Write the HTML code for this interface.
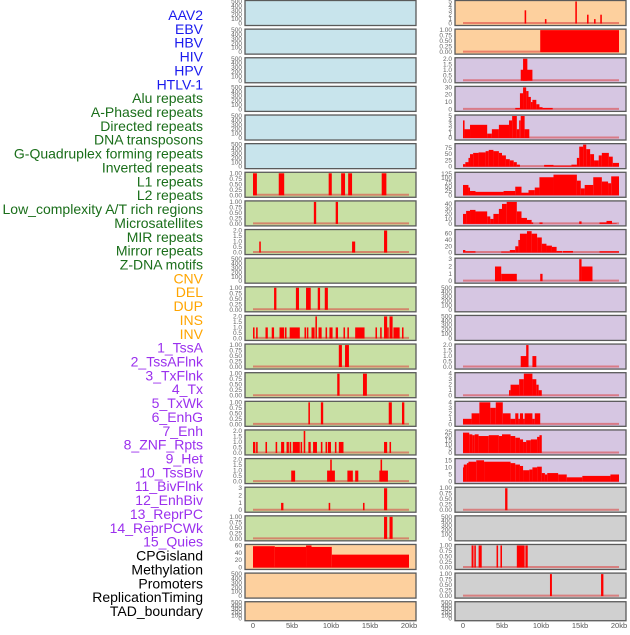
<!DOCTYPE html>
<html><head><meta charset="utf-8">
<style>
body{margin:0;background:#fff;width:630px;height:630px;overflow:hidden;font-family:"Liberation Sans",sans-serif;}
svg text{font-family:"Liberation Sans",sans-serif;}
</style></head>
<body>
<svg id="chart" width="630" height="630" viewBox="0 0 630 630" xmlns="http://www.w3.org/2000/svg"></svg>
<script>
// ---- labels ----
const labelNames = ["AAV2","EBV","HBV","HIV","HPV","HTLV-1","Alu repeats","A-Phased repeats","Directed repeats","DNA transposons","G-Quadruplex forming repeats","Inverted repeats","L1 repeats","L2 repeats","Low_complexity A/T rich regions","Microsatellites","MIR repeats","Mirror repeats","Z-DNA motifs","CNV","DEL","DUP","INS","INV","1_TssA","2_TssAFlnk","3_TxFlnk","4_Tx","5_TxWk","6_EnhG","7_Enh","8_ZNF_Rpts","9_Het","10_TssBiv","11_BivFlnk","12_EnhBiv","13_ReprPC","14_ReprPCWk","15_Quies","CPGisland","Methylation","Promoters","ReplicationTiming","TAD_boundary"];
const labelGroups = [0,0,0,0,0,0,1,1,1,1,1,1,1,1,1,1,1,1,1,2,2,2,2,2,3,3,3,3,3,3,3,3,3,3,3,3,3,3,3,4,4,4,4,4];
const groupColors = ["#1a1aee","#1a6e1a","#ffa500","#9b30ee","#000000"];

// ---- tick label sets ----
const T500 = [0,100,200,300,400,500];
const T1 = [0,0.25,0.5,0.75,1];
const T2 = [0,0.5,1,1.5,2];
const T3 = [0,1,2,3];
const T4 = [0,1,2,3,4];
const T5 = [0,1,2,3,4,5];

// ---- left column data (segments: [startKb, endKb, value]) ----
const leftTicks = [T500,T500,T500,T500,T500,T500,T1,T1,T2,T500,T1,T2,T1,T1,T1,T2,T2,T3,T1,[0,20,40,60],T500,T500];
const leftMax = [500,500,500,500,500,500,1,1,2,500,1,2,1,1,1,2,2,3,1,60,500,500];
const leftBg = ["#c8e4ec","#c8e4ec","#c8e4ec","#c8e4ec","#c8e4ec","#c8e4ec","#c8e0a4","#c8e0a4","#c8e0a4","#c8e0a4","#c8e0a4","#c8e0a4","#c8e0a4","#c8e0a4","#c8e0a4","#c8e0a4","#c8e0a4","#c8e0a4","#c8e0a4","#fdd09e","#fdd09e","#fdd09e"];
const left6 = [[0,0.5,1],[3.3,4.0,1],[9.7,10.1,1],[11.3,11.8,1],[12.2,12.7,1],[16.5,17.1,1]];
const left7 = [[7.8,8.1,1],[10.6,10.9,1]];
const left8 = [[0.8,1.0,1],[12.7,13.1,1],[16.8,17.2,2]];
const left10 = [[2.7,3.0,1],[5.5,5.9,1],[6.8,7.4,1],[8.3,8.6,1],[9.2,9.6,1]];
const left11 = [[-0.1,0.2,1],[0.4,0.6,1],[1.6,1.9,1],[2.4,2.7,1],[3.4,4.0,1],[4.1,4.3,1],[4.7,6.0,1],[6.6,6.8,1],[6.9,7.1,1],[7.5,7.9,1],[8.0,8.2,2],[8.4,8.8,1],[9.3,9.5,1],[9.8,10.2,1],[10.6,10.9,1],[11.6,11.8,1],[12.1,12.3,1],[13.1,14.3,1],[15.7,15.9,1],[16.3,16.5,1],[16.8,17.2,2],[17.2,17.4,1],[17.5,17.9,2],[18.0,18.8,1],[19.1,19.3,1]];
const left12 = [[11.0,11.4,1],[11.8,12.3,1]];
const left13 = [[10.8,11.1,1],[14.1,14.6,1]];
const left14 = [[7.1,7.3,1],[8.7,9.0,1],[17.4,17.8,1],[19.1,19.4,1]];
const left15 = [[-0.1,0.3,1],[0.4,0.6,1],[1.6,1.8,1],[2.9,3.1,1],[3.6,4.0,1],[4.3,4.6,1],[4.7,4.9,1],[5.1,6.0,1],[6.1,6.3,1],[6.5,6.7,2],[7.1,7.4,1],[7.7,8.2,1],[8.7,8.9,1],[9.3,9.5,1],[9.6,10.0,1],[10.5,10.7,1],[11.0,11.6,1],[16.8,17.2,1],[17.5,17.7,1]];
const left16 = [[4.9,5.4,1],[9.5,10.5,1],[9.9,10.1,2],[12.1,12.8,1],[13.1,13.5,1],[16.2,17.3,1],[16.35,16.55,2]];
const left17 = [[3.6,3.9,1],[9.7,9.9,1],[14.1,14.3,1],[16.8,17.2,3]];
const left18 = [[16.8,17.2,1],[17.5,17.9,1]];
const left19 = [[0,2.8,58],[2.8,6.8,56],[6.8,7.5,60],[7.5,10.1,56],[10.1,20,35]];
const leftData = [[],[],[],[],[],[],left6,left7,left8,[],left10,left11,left12,left13,left14,left15,left16,left17,left18,left19,[],[]];

// ---- right column data ----
const rightTicks = [T5,T1,T2,[0,10,20,30],T5,[0,25,50,75],[0,25,50,75,100,125],[0,10,20,30,40],[0,20,40,60],T3,T500,T500,T2,T4,T4,[0,5,10,15,20,25],[0,5,10,15],T1,T500,T1,T1,T500];
const rightMax = [5,1,2,30,5,88,128,44,70,3,500,500,2,4,4,26,15.5,1,500,1,1,500];
const rightBg = ["#fdd09e","#fdd09e","#d6c6e2","#d6c6e2","#d6c6e2","#d6c6e2","#d6c6e2","#d6c6e2","#d6c6e2","#d6c6e2","#d6c6e2","#d6c6e2","#d6c6e2","#d6c6e2","#d6c6e2","#d6c6e2","#d6c6e2","#d0d0d0","#d0d0d0","#d0d0d0","#d0d0d0","#d0d0d0"];
const right0 = [[7.9,8.1,3],[10.5,10.7,1],[14.4,14.6,5],[15.9,16.1,2],[16.8,17.0,1],[17.6,17.8,2]];
const right1 = [[9.9,20,1]];
const right2 = [[7.4,8.9,1],[7.7,8.25,2]];
const right3 = [[6.7,7.3,2],[7.3,7.7,22],[7.7,8.1,30],[8.1,8.4,25],[8.4,8.7,17],[8.7,8.9,10],[8.9,9.4,13],[9.4,9.8,7],[9.8,10.2,3],[10.2,11.5,2]];
const right4 = [[0,0.2,4],[0.2,0.9,2],[0.9,3.1,3],[3.1,3.7,1],[3.7,4.6,2],[4.6,5.9,3],[5.9,6.3,4],[6.3,6.9,5],[6.9,7.2,2],[7.2,7.4,4],[7.4,7.9,5],[7.9,8.5,2]];
const right5 = [[0,0.3,10],[0.3,0.7,18],[0.7,0.9,35],[0.9,1.3,50],[1.3,2.0,55],[2.0,2.9,57],[2.9,3.3,62],[3.3,3.9,67],[3.9,4.6,62],[4.6,5.0,55],[5.0,5.5,45],[5.5,6.0,30],[6.0,6.5,25],[6.5,6.9,18],[6.9,7.3,8],[10.4,11.6,7],[11.6,13.9,4],[13.9,14.6,8],[14.6,14.9,35],[14.9,15.4,80],[15.4,15.8,88],[15.8,16.3,70],[16.3,16.8,50],[16.8,17.4,25],[17.4,17.8,45],[17.8,18.7,55],[18.7,19.2,40],[19.2,20,15]];
const right6 = [[0,0.7,60],[0.7,0.9,45],[0.9,1.6,25],[1.6,5.2,20],[5.2,6.7,25],[6.7,7.5,50],[7.5,8.4,15],[8.4,9.2,30],[9.2,9.8,45],[9.8,11.6,105],[11.6,14.6,120],[14.6,15.1,85],[15.1,15.6,40],[15.6,16.7,60],[16.7,17.8,105],[17.8,18.6,80],[18.6,19.0,70],[19.0,20,110]];
const right7 = [[0,0.4,20],[0.4,0.9,26],[0.9,1.6,28],[1.6,3.1,25],[3.1,3.5,15],[3.5,3.9,10],[3.9,4.6,20],[4.6,5.0,30],[5.0,5.6,40],[5.6,6.9,44],[6.9,7.5,25],[7.5,8.2,12],[8.2,8.8,8],[8.8,9.0,3],[9.8,10.2,3],[14.9,15.2,5],[17.5,18.4,3],[18.4,19.1,6],[19.1,19.7,1]];
const right8 = [[0,0.3,8],[0.3,1.6,4],[4.9,6.0,3],[6.0,6.7,8],[6.7,7.1,20],[7.1,7.3,40],[7.3,8.2,60],[8.2,8.8,68],[8.8,9.5,60],[9.5,10.1,48],[10.1,10.7,28],[10.7,11.4,22],[11.4,12.0,18],[12.0,12.7,5],[12.8,14.1,5],[17.5,20,4]];
const right9 = [[4.1,4.9,2],[4.9,6.9,1],[9.9,10.2,1],[14.9,15.2,3],[15.2,16.6,2]];
const right12 = [[7.4,8.2,1],[8.1,8.4,2],[8.9,9.4,1]];
const right13 = [[5.9,6.1,1],[6.1,7.2,2],[7.2,7.8,3],[7.8,8.9,4],[8.9,9.4,3],[9.4,9.7,2],[9.7,10.1,1]];
const right14 = [[0,1.1,1],[1.1,2.1,2],[2.1,3.5,4],[3.5,4.2,3],[4.2,5.1,4],[5.1,6.1,2],[6.1,6.7,1],[6.7,7.1,2],[7.1,7.3,1],[7.3,7.7,2],[7.7,7.9,1],[7.9,8.9,2],[8.9,9.2,1],[9.2,9.9,2]];
const right15 = [[0,0.8,24],[0.8,1.2,22],[1.2,1.5,21],[1.5,2.0,22],[2.0,3.3,20],[3.3,4.6,21],[4.6,5.0,20],[5.0,6.1,22],[6.1,6.7,20],[6.7,7.3,18],[7.3,7.7,16],[7.7,8.1,13],[8.1,8.7,15],[8.7,9.5,16],[9.5,9.8,19],[9.8,10.1,21]];
const right16 = [[0,0.1,10],[0.1,0.5,12],[0.5,0.7,13],[0.7,1.7,14],[1.7,2.7,15],[2.7,6.1,14],[6.1,6.7,13],[6.7,7.3,12],[7.3,7.7,11],[7.7,8.5,8],[8.5,8.9,8.5],[8.9,9.5,10],[9.5,10.1,10.5],[10.1,10.5,6],[10.5,10.8,5],[10.8,12.2,6],[12.2,13.3,5],[13.3,15.3,3],[15.3,18.9,4],[18.9,20,5]];
const right17 = [[5.4,5.7,1]];
const right19 = [[1.1,1.35,1],[1.45,1.65,1],[2.0,2.4,1],[4.3,4.5,1],[4.8,5.0,1],[6.9,7.9,1],[8.0,8.3,1]];
const right20 = [[11.15,11.4,1],[17.7,18.0,1]];
const rightData = [right0,right1,right2,right3,right4,right5,right6,right7,right8,right9,[],[],right12,right13,right14,right15,right16,right17,[],right19,right20,[]];

const xTicks = [0,5,10,15,20];
const xTickLabels = ["0","5kb","10kb","15kb","20kb"];

// ---- drawing ----
const NS = "http://www.w3.org/2000/svg";
const svg = document.getElementById("chart");
function mk(tag, attrs, parent){
  const e = document.createElementNS(NS, tag);
  for (const k in attrs) e.setAttribute(k, attrs[k]);
  (parent||svg).appendChild(e);
  return e;
}
const rowTop = i => i*28.63;
const rowH = i => i===21 ? 19 : 25;
const cols = [{px:245, pw:171, x0:253, x1:409, ticks:leftTicks, max:leftMax, bg:leftBg, data:leftData, side:"left"},
              {px:455, pw:171, x0:463, x1:619, ticks:rightTicks, max:rightMax, bg:rightBg, data:rightData, side:"right"}];

// labels
labelNames.forEach((n,i)=>{
  const t = mk("text",{x:203,y:15+i*13.86+5,"text-anchor":"end","font-size":"14",fill:groupColors[labelGroups[i]]});
  t.textContent = n;
  
  
});

cols.forEach(c=>{
  const xs = kb => c.x0 + (kb/20)*(c.x1-c.x0);
  for (let i=0;i<22;i++){
    const top = rowTop(i), h = rowH(i);
    const g = mk("g",{});
    
    
    mk("rect",{x:c.px,y:top+0.5,width:c.pw,height:h,fill:c.bg[i],stroke:"#5a5a5a","stroke-width":1.3},g);
    const yT = top+1.5, yB = top+h-1.5;
    const ys = v => yB - (v/c.max[i])*(yB-yT);
    if (c.data[i].length){
      const bl = mk("line",{x1:xs(0),x2:xs(20),y1:yB-0.5,y2:yB-0.5,stroke:"rgba(220,60,60,0.55)","stroke-width":2},g);
      
      
    }
    c.data[i].forEach(s=>{
      const x = xs(Math.max(0,s[0])), w = Math.max(1.5, xs(s[1])-xs(Math.max(0,s[0])));
      const r = mk("rect",{x:x,y:ys(s[2]),width:w,height:yB-ys(s[2]),fill:"#ff0000"},g);
      
      
    });
    c.ticks[i].forEach(v=>{
      const lab = c.max[i]===1 ? v.toFixed(2) : (c.ticks[i]===T2 ? v.toFixed(1) : String(v));
      const t = mk("text",{x:c.px-3,y:ys(v)+2,"text-anchor":"end","font-size":"6.5",fill:"#666"},g);
      t.textContent = lab;
      
      
    });
  }
  xTicks.forEach((v,k)=>{
    const t = mk("text",{x:xs(v),y:628,"text-anchor":"middle","font-size":"7.5",fill:"#555"});
    t.textContent = xTickLabels[k];
    
    
  });
});
</script>
</body></html>
